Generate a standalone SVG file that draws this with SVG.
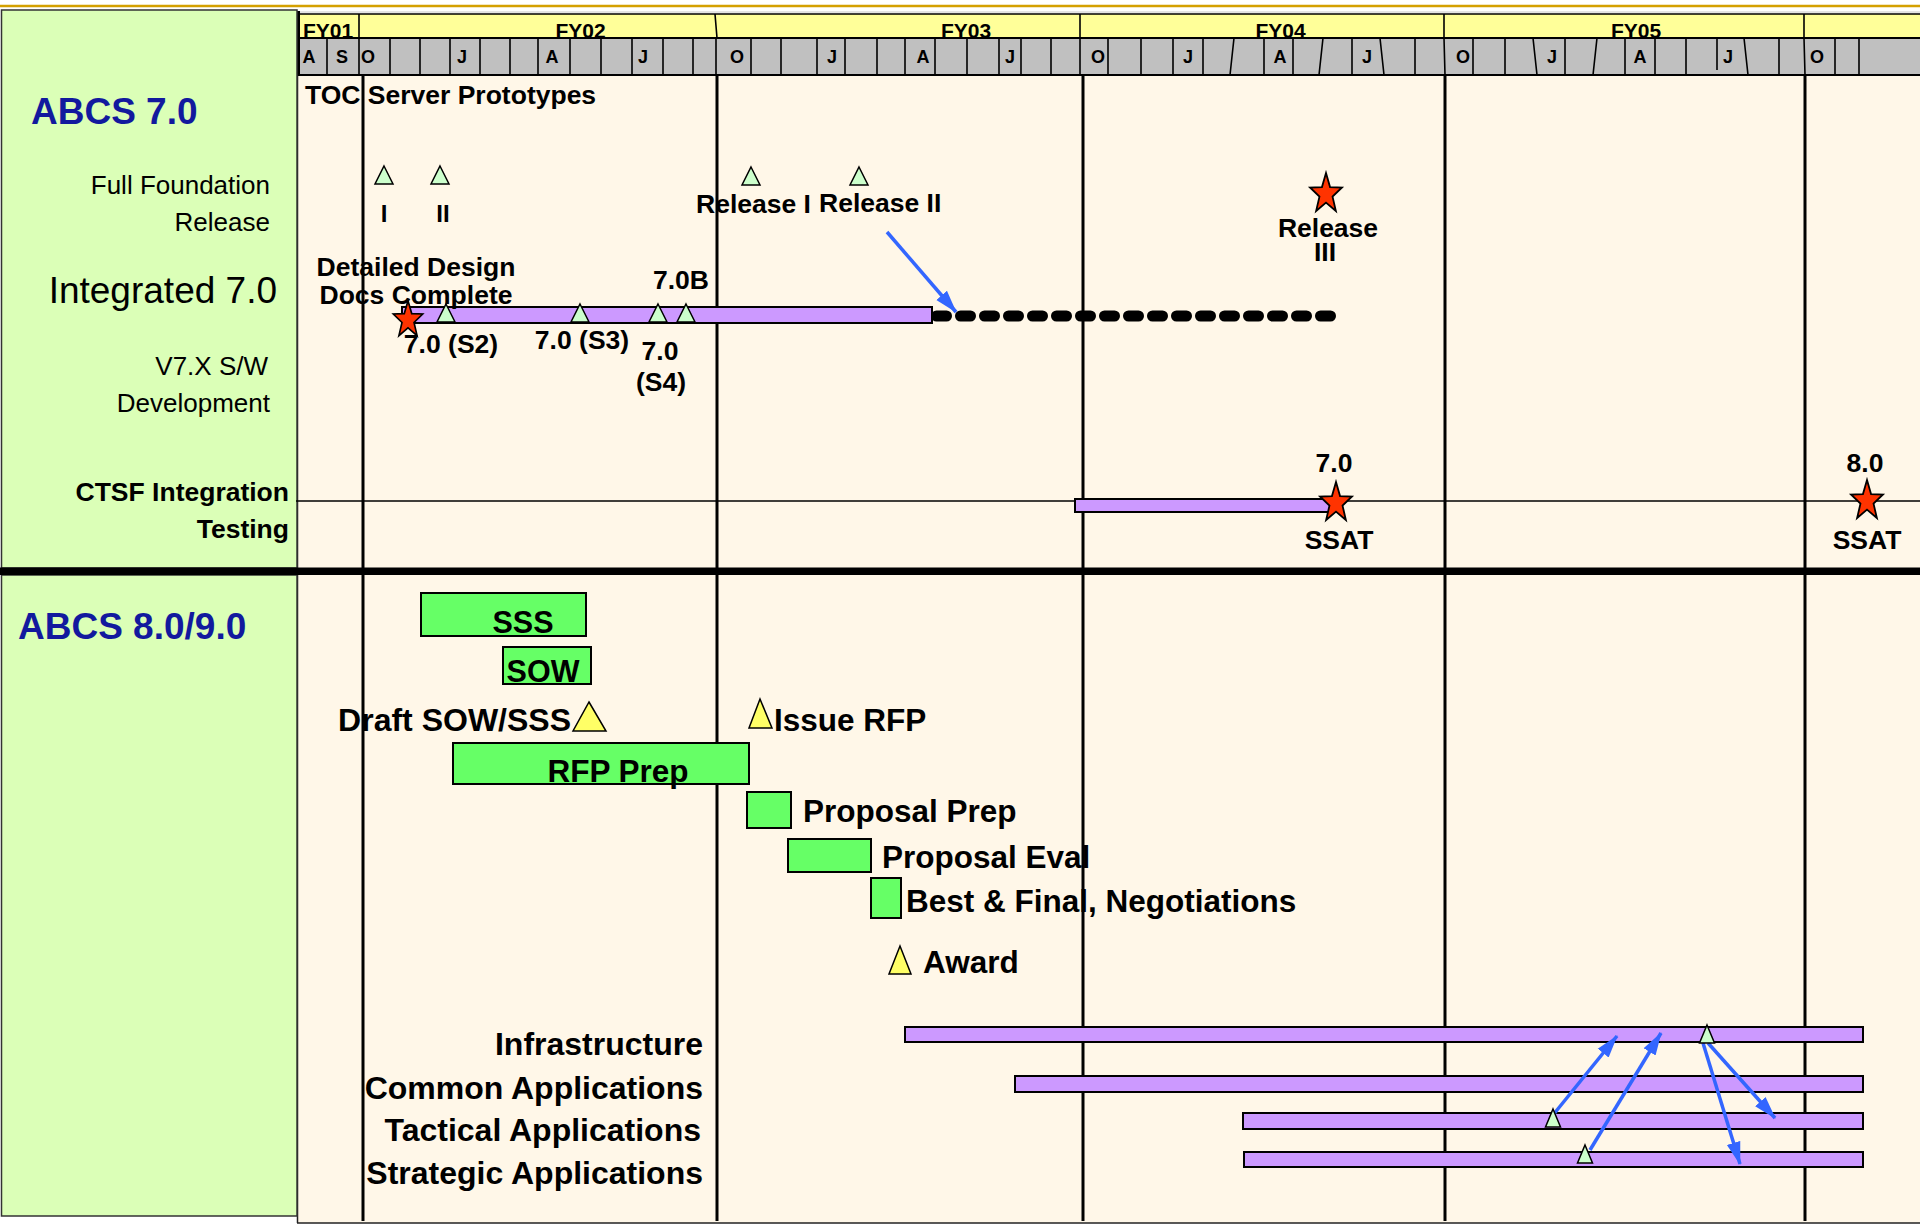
<svg xmlns="http://www.w3.org/2000/svg" width="1920" height="1225" viewBox="0 0 1920 1225">
<defs>
<style>
text{font-family:"Liberation Sans",Arial,sans-serif;fill:#000}
.b{font-weight:bold}
.fy{font-size:21px;font-weight:bold}
.mo{font-size:18px;font-weight:bold;text-anchor:middle}
.lab{font-size:26px}
.big{font-size:37px;font-weight:bold;fill:#12199E}
.t26{font-size:26.5px;font-weight:bold}
.t31{font-size:31.5px;font-weight:bold}
.t32{font-size:32px;font-weight:bold}
.mid{text-anchor:middle}
.end{text-anchor:end}
.bar{fill:#CC99FF;stroke:#000;stroke-width:2}
.gbox{fill:#66FF66;stroke:#000;stroke-width:2}
.mtri{fill:#CCFFCC;stroke:#000;stroke-width:1.5}
.ytri{fill:#FFFF66;stroke:#000;stroke-width:1.5}
.star{fill:#FF3300;stroke:#000;stroke-width:1.8}
.grid{stroke:#000;stroke-width:3;fill:none}
.tick{stroke:#000;stroke-width:1.6;fill:none}
.arr{stroke:#3366FF;stroke-width:3.5;fill:none;marker-end:url(#ah)}
</style>
<marker id="ah" markerUnits="userSpaceOnUse" markerWidth="24" markerHeight="16" refX="22" refY="8" orient="auto">
<path d="M0,1 L23,8 L0,15 z" fill="#3366FF"/>
</marker>
<path id="star" d="M0,-21 L4.04,-6.96 L15.98,-6.49 L6.54,2.66 L9.87,16.99 L0,8.6 L-9.87,16.99 L-6.54,2.66 L-15.98,-6.49 L-4.04,-6.96 Z"/>
<path id="tri" d="M0,0 L9,18 L-9,18 Z"/>
<path id="ntri" d="M0,0 L7.5,18 L-7.5,18 Z"/>
</defs>

<rect x="0" y="0" width="1920" height="1225" fill="#FFFFFF"/>
<line x1="0" y1="6" x2="1920" y2="6" stroke="#D4A000" stroke-width="2.5"/>
<line x1="297" y1="12" x2="1920" y2="12" stroke="#C8C8C8" stroke-width="1"/>

<!-- chart background -->
<rect x="297" y="76" width="1623" height="1147" fill="#FFF7E8"/>
<line x1="297" y1="1223" x2="1920" y2="1223" stroke="#222" stroke-width="1.5"/>
<line x1="297.5" y1="76" x2="297.5" y2="1223" stroke="#222" stroke-width="1.5"/>

<!-- header -->
<g id="header">
<rect x="298" y="14" width="1622" height="24" fill="#FFFF99"/>
<line x1="298" y1="14" x2="1920" y2="14" stroke="#000" stroke-width="1.5"/>
<path class="tick" d="M359,14V38 M715,14L717,38 M1080,14V38 M1444,14V38 M1804,14V38" stroke-width="1.2"/>
<text class="fy" x="303" y="37.5">FY01</text>
<text class="fy mid" x="580.5" y="37.5">FY02</text>
<text class="fy mid" x="966" y="37.5">FY03</text>
<text class="fy mid" x="1280.5" y="37.5">FY04</text>
<text class="fy mid" x="1636" y="37.5">FY05</text>
<rect x="298" y="38" width="1622" height="38" fill="#C0C0C0"/>
<line x1="298" y1="38" x2="1920" y2="38" stroke="#000" stroke-width="1.8"/>
<line x1="298" y1="75" x2="1920" y2="75" stroke="#000" stroke-width="2.2"/>
<path class="tick" d="M327,38V75 M359,38V75 M390,38V75 M420,38V75 M450,38V75 M480,38V75 M510,38V75 M538,38V75 M570,38V75 M601,38V75 M632,38V75 M663,38V75 M693,38V75 M716,38V75
M751,38V75 M781,38V75 M817,38V75 M845,38V75 M877,38V75 M905,38V75 M935,38V75 M967,38V75 M999,38V75 M1021,38V75 M1051,38V75 M1080,38V75
M1108,38V75 M1141,38V75 M1173,38V75 M1203,38V75 M1234,38L1230,75 M1264,38V75 M1293,38V75 M1323,38L1319,75 M1352,38V75 M1380,38L1384,75 M1415,38V75 M1444,38L1445,75
M1473,38V75 M1505,38V75 M1533,38L1537,75 M1565,38V75 M1597,38L1593,75 M1625,38V75 M1655,38V75 M1686,38V75 M1717,38V70 M1744,38L1748,75 M1779,38V75 M1804,38L1805,75
M1835,38V75 M1859,38V75"/>
<line x1="298.5" y1="11" x2="298.5" y2="76" stroke="#000" stroke-width="3"/>
<text class="mo" x="309" y="63">A</text>
<text class="mo" x="342" y="63">S</text>
<text class="mo" x="368" y="63">O</text>
<text class="mo" x="462" y="63">J</text>
<text class="mo" x="552" y="63">A</text>
<text class="mo" x="643" y="63">J</text>
<text class="mo" x="737" y="63">O</text>
<text class="mo" x="832" y="63">J</text>
<text class="mo" x="923" y="63">A</text>
<text class="mo" x="1010" y="63">J</text>
<text class="mo" x="1098" y="63">O</text>
<text class="mo" x="1188" y="63">J</text>
<text class="mo" x="1280" y="63">A</text>
<text class="mo" x="1367" y="63">J</text>
<text class="mo" x="1463" y="63">O</text>
<text class="mo" x="1552" y="63">J</text>
<text class="mo" x="1640" y="63">A</text>
<text class="mo" x="1728" y="63">J</text>
<text class="mo" x="1817" y="63">O</text>
</g>

<!-- left panels -->
<g id="panel-abcs70">
<rect x="1.5" y="10" width="295.5" height="558" fill="#DBFFB7" stroke="#333" stroke-width="1.5"/>
<text class="big" x="31" y="124">ABCS 7.0</text>
<text class="lab end" x="270" y="194">Full Foundation</text>
<text class="lab end" x="270" y="231">Release</text>
<text class="end" x="277" y="303" font-size="37">Integrated 7.0</text>
<text class="lab end" x="268" y="375">V7.X S/W</text>
<text class="lab end" x="270" y="412">Development</text>
<text class="t26 end" x="289" y="501">CTSF Integration</text>
<text class="t26 end" x="289" y="538">Testing</text>
</g>
<g id="panel-abcs8090">
<rect x="1.5" y="575" width="295.5" height="641" fill="#DBFFB7" stroke="#333" stroke-width="1.5"/>
<text class="big" x="18" y="639">ABCS 8.0/9.0</text>
</g>

<!-- grid -->
<g id="grid">
<path class="grid" d="M363,76V1221 M717,76V1221 M1083,76V1221 M1445,76V1221 M1805,76V1221"/>
<line x1="296" y1="501" x2="1920" y2="501" stroke="#000" stroke-width="1.6"/>
<rect x="0" y="567.5" width="1920" height="7.5" fill="#000"/>
</g>

<!-- upper section -->
<g id="toc-prototypes">
<text class="t26" x="305" y="104">TOC Server Prototypes</text>
<use href="#tri" class="mtri" x="384" y="166"/>
<use href="#tri" class="mtri" x="440" y="166"/>
<text class="b mid" font-size="24" x="384" y="222">I</text>
<text class="b mid" font-size="24" x="443" y="222">II</text>
</g>
<g id="release-1-2">
<use href="#tri" class="mtri" x="751" y="167"/>
<use href="#tri" class="mtri" x="859" y="167"/>
<text class="t26" x="696" y="213">Release I</text>
<text class="t26" x="819" y="212">Release II</text>
</g>
<g id="release-3">
<use href="#star" class="star" transform="translate(1326,194)"/>
<text class="t26 mid" x="1328" y="237">Release</text>
<text class="t26 mid" x="1325" y="261">III</text>
</g>
<g id="v7x-dev">
<rect class="bar" x="402" y="307" width="530" height="16"/>
<line x1="936.5" y1="316" x2="1331" y2="316" stroke="#000" stroke-width="11" stroke-linecap="round" stroke-dasharray="10 14"/>
<use href="#star" class="star" transform="translate(408,320) scale(0.92)"/>
<use href="#tri" class="mtri" x="446" y="304"/>
<use href="#tri" class="mtri" x="580" y="304"/>
<use href="#tri" class="mtri" x="658" y="304"/>
<use href="#tri" class="mtri" x="686" y="304"/>
<text class="t26 mid" x="416" y="276">Detailed Design</text>
<text class="t26 mid" x="416" y="304">Docs Complete</text>
<text class="t26 mid" x="681" y="289">7.0B</text>
<text class="t26 mid" x="451" y="353">7.0 (S2)</text>
<text class="t26 mid" x="582" y="349">7.0 (S3)</text>
<text class="t26 mid" x="660" y="360">7.0</text>
<text class="t26 mid" x="661" y="391">(S4)</text>
</g>
<g id="ctsf-70">
<rect class="bar" x="1075" y="499" width="259" height="13"/>
<use href="#star" class="star" transform="translate(1336,503)"/>
<text class="t26 mid" x="1334" y="472">7.0</text>
<text class="t26 mid" x="1339" y="549">SSAT</text>
</g>
<g id="ctsf-80">
<use href="#star" class="star" transform="translate(1867,501)"/>
<text class="t26 mid" x="1865" y="472">8.0</text>
<text class="t26 mid" x="1867" y="549">SSAT</text>
</g>

<!-- lower section -->
<g id="sss">
<rect class="gbox" x="421" y="593" width="165" height="43"/>
<text class="b mid" font-size="30.5" x="523" y="633">SSS</text>
</g>
<g id="sow">
<rect class="gbox" x="503" y="647" width="88" height="37"/>
<text class="b mid" font-size="30.5" x="543" y="682">SOW</text>
</g>
<g id="draft-sow-sss">
<path class="ytri" d="M589,702 L606,731 L573,731 Z"/>
<text class="t32 end" x="571" y="731">Draft SOW/SSS</text>
</g>
<g id="issue-rfp">
<path class="ytri" d="M760,699 L772,728 L749,728 Z"/>
<text class="t31" x="774" y="731">Issue RFP</text>
</g>
<g id="rfp-prep">
<rect class="gbox" x="453" y="743" width="296" height="41"/>
<text class="t31 mid" x="618" y="782">RFP Prep</text>
</g>
<g id="proposal-prep">
<rect class="gbox" x="747" y="792" width="44" height="36"/>
<text class="t31" x="803" y="822">Proposal Prep</text>
</g>
<g id="proposal-eval">
<rect class="gbox" x="788" y="839" width="83" height="33"/>
<text class="t31" x="882" y="868">Proposal Eval</text>
</g>
<g id="best-final">
<rect class="gbox" x="871" y="878" width="30" height="40"/>
<text class="t31" x="906" y="912">Best &amp; Final, Negotiations</text>
</g>
<g id="award">
<path class="ytri" d="M900,946 L911,974 L889,974 Z"/>
<text class="t31" x="923" y="973">Award</text>
</g>
<g id="infrastructure">
<rect class="bar" x="905" y="1027" width="958" height="15"/>
<text class="t32 end" x="703" y="1055">Infrastructure</text>
</g>
<g id="common-apps">
<rect class="bar" x="1015" y="1076" width="848" height="16"/>
<text class="t32 end" x="703" y="1099">Common Applications</text>
</g>
<g id="tactical-apps">
<rect class="bar" x="1243" y="1113" width="620" height="16"/>
<text class="t32 end" x="701" y="1141">Tactical Applications</text>
</g>
<g id="strategic-apps">
<rect class="bar" x="1244" y="1152" width="619" height="15"/>
<text class="t32 end" x="703" y="1184">Strategic Applications</text>
</g>

<!-- connectors -->
<g id="connectors">
<line class="arr" x1="887" y1="232" x2="956" y2="312"/>
<line class="arr" x1="1553" y1="1115" x2="1617" y2="1036"/>
<line class="arr" x1="1590" y1="1150" x2="1661" y2="1033"/>
<line class="arr" x1="1708" y1="1043" x2="1775" y2="1118"/>
<line class="arr" x1="1703" y1="1043" x2="1740" y2="1164"/>
</g>
<g id="sync-milestones">
<use href="#ntri" class="mtri" x="1707" y="1025"/>
<use href="#ntri" class="mtri" x="1553" y="1109"/>
<use href="#ntri" class="mtri" x="1585" y="1145"/>
</g>
</svg>
